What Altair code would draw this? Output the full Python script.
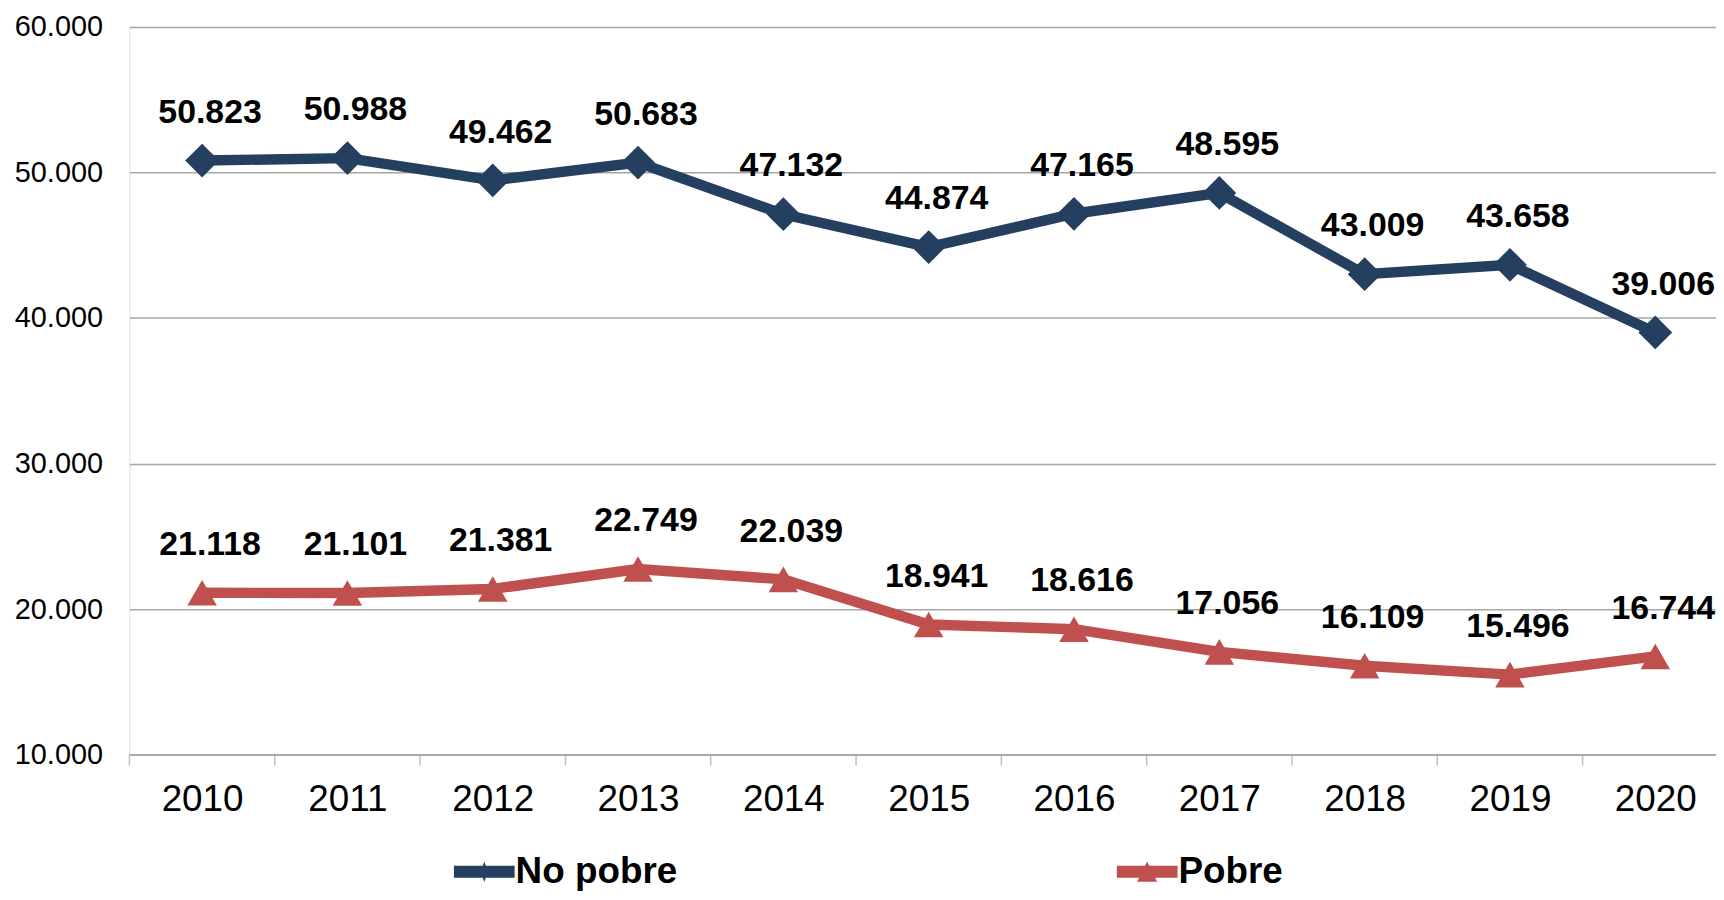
import altair as alt
import pandas as pd

# ---- data ----
years = [2010, 2011, 2012, 2013, 2014, 2015, 2016, 2017, 2018, 2019, 2020]
no_pobre = [50823, 50988, 49462, 50683, 47132, 44874, 47165, 48595, 43009, 43658, 39006]
pobre = [21118, 21101, 21381, 22749, 22039, 18941, 18616, 17056, 16109, 15496, 16744]
series_names = ["No pobre", "Pobre"]
y_ticks = [10000, 20000, 30000, 40000, 50000, 60000]

# ---- layout / style ----
PLOT_W = 1594
PLOT_H = 731
BAND = 146
COLORS = ["#243F60", "#C0504D"]
GRID = "#A6A6A6"
FONT = "Liberation Sans"

rows = []
for yr, a, b in zip(years, no_pobre, pobre):
    rows.append({"year": yr, "serie": series_names[0], "leg": series_names[0], "value": a})
    rows.append({"year": yr, "serie": series_names[1], "leg": series_names[1], "value": b})
df = pd.DataFrame(rows)

x_min = years[0] - 0.5
x_max = x_min + PLOT_W / BAND
edges = [yr - 0.5 for yr in years] + [years[-1] + 0.5]
edges = [e for e in edges if e <= x_max]
ticks_df = pd.DataFrame({"edge": edges})

x_scale = alt.Scale(domain=[x_min, x_max], nice=False, zero=False)
y_scale = alt.Scale(domain=[y_ticks[0], y_ticks[-1]], nice=False, zero=False)

x_axis = alt.Axis(
    values=years, format="d", title=None, ticks=False, tickSize=0,
    labelPadding=27, labelFontSize=37, labelFont=FONT, labelColor="black",
    domain=True, domainColor=GRID, domainWidth=1.5, grid=False,
    labelFlush=False, labelOverlap=False,
)
y_axis = alt.Axis(
    values=y_ticks, title=None, ticks=False, tickSize=0, domain=False,
    labelExpr="replace(format(datum.value, ','), ',', '.')",
    labelPadding=27, labelFontSize=29, labelFont=FONT, labelColor="black",
    grid=True, gridColor=GRID, gridWidth=1.5,
)

# legend symbols: thick line with the series marker in the middle
sym_no = "M-1,-0.2L1,-0.2L1,0.2L-1,0.2Z M0,-0.34L0.12,0L0,0.34L-0.12,0Z"
sym_po = "M-1,-0.2L1,-0.2L1,0.2L-1,0.2Z M0,-0.34L0.33,0.33L-0.33,0.33Z"

legend = alt.Legend(
    title=None, orient="none", legendX=326, legendY=818, direction="horizontal",
    columnPadding=441, padding=0, symbolSize=3721, symbolStrokeWidth=0,
    labelFont=FONT, labelFontSize=37, labelFontWeight="bold", labelLimit=500,
    labelColor="black", labelOffset=1, symbolOpacity=1,
)

color_scale = alt.Scale(domain=series_names, range=COLORS)

base = alt.Chart(df).encode(
    x=alt.X("year:Q", scale=x_scale, axis=x_axis),
    y=alt.Y("value:Q", scale=y_scale, axis=y_axis),
)

lines = base.mark_line(strokeWidth=10.5).encode(
    color=alt.Color("serie:N", scale=color_scale, legend=None), detail="serie:N"
)

points = base.mark_point(filled=True, opacity=1, strokeWidth=0).encode(
    color=alt.Color("serie:N", scale=color_scale, legend=None),
    shape=alt.Shape("serie:N", scale=alt.Scale(domain=series_names, range=["diamond", "triangle-up"]), legend=None),
    size=alt.Size("serie:N", scale=alt.Scale(domain=series_names, range=[1150, 880]), legend=None),
)

# invisible layer that only carries the legend (line + marker symbols)
legend_layer = base.mark_point(filled=True, opacity=0, size=100, strokeWidth=0).encode(
    color=alt.Color("leg:N", scale=color_scale, legend=legend),
    shape=alt.Shape("leg:N", scale=alt.Scale(domain=series_names, range=[sym_no, sym_po]), legend=legend),
)

labels = base.transform_calculate(
    label="replace(format(datum.value, ','), ',', '.')"
).mark_text(
    font=FONT, fontSize=34, fontWeight="bold", color="black",
    dx=8, dy=-48, baseline="middle", align="center",
).encode(text="label:N")

xticks = alt.Chart(ticks_df).mark_tick(
    orient="vertical", size=11, thickness=1.5, color=GRID, yOffset=5.5
).encode(
    x=alt.X("edge:Q", scale=x_scale, axis=x_axis),
    y=alt.YDatum(y_ticks[0], type="quantitative", scale=y_scale, axis=y_axis),
)

chart = alt.layer(lines, points, legend_layer, labels, xticks).resolve_scale(
    shape="independent", color="independent"
).properties(
    width=PLOT_W, height=PLOT_H,
    padding={"left": 122, "top": 17, "right": 0, "bottom": 136},
    autosize=alt.AutoSizeParams(type="none"),
).configure_view(stroke=None).configure(background="white")

chart.save("out.html", embed_options={"renderer": "svg", "actions": False})
